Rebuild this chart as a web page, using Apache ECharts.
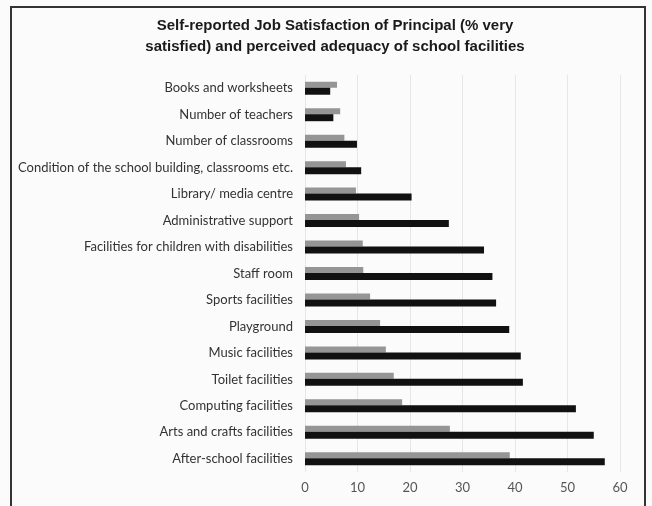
<!DOCTYPE html>
<html><head><meta charset="utf-8">
<script src="https://cdn.jsdelivr.net/npm/echarts@6/dist/echarts.min.js"></script>
<style>html,body{margin:0;padding:0;background:#fbfbfb;}#c{width:652px;height:506px;}</style>
</head><body><div id="c"></div>
<script>
const categories = ["Books and worksheets","Number of teachers","Number of classrooms","Condition of the school building, classrooms etc.","Library/ media centre","Administrative support","Facilities for children with disabilities","Staff room","Sports facilities","Playground","Music facilities","Toilet facilities","Computing facilities","Arts and crafts facilities","After-school facilities"];
const grayValues = [6.1,6.7,7.5,7.8,9.7,10.3,11.0,11.1,12.4,14.3,15.4,16.9,18.5,27.6,39.0];
const blackValues = [4.8,5.4,9.9,10.7,20.3,27.4,34.1,35.7,36.4,38.9,41.1,41.5,51.6,55.0,57.1];
const xTicks = [0,10,20,30,40,50,60];

const chart = echarts.init(document.getElementById('c'), null, {renderer:'canvas'});
chart.setOption({
  backgroundColor:'#fbfbfb',
  animation:false,
  title:{
    text:'Self-reported Job Satisfaction of Principal (% very\nsatisfied) and perceived adequacy of school facilities',
    left:330, textAlign:'center', top:10,
    textStyle:{fontFamily:'Liberation Sans', fontWeight:'bold', fontSize:15, color:'#1a1a1a', lineHeight:21}
  },
  graphic:[{type:'rect', shape:{x:11,y:7,width:634,height:520}, style:{fill:'none', stroke:'#333', lineWidth:2}, silent:true}],
  grid:{left:305, right:32, top:75, bottom:34},
  xAxis:{type:'value', min:xTicks[0], max:xTicks[xTicks.length-1], interval:10,
    axisLine:{show:false}, axisTick:{show:false},
    splitLine:{lineStyle:{color:'#e6e6e6'}},
    axisLabel:{color:'#555', fontFamily:'Lato', fontSize:13, margin:9}},
  yAxis:{type:'category', data:categories, inverse:true,
    axisLine:{show:false}, axisTick:{show:false},
    axisLabel:{color:'#333', fontFamily:'Lato', fontSize:13, margin:12}},
  series:[
    {type:'bar', data:grayValues, barWidth:6, barGap:'0%', itemStyle:{color:'#959595'}},
    {type:'bar', data:blackValues, barWidth:7, itemStyle:{color:'#111'}}
  ]
});
</script></body></html>
